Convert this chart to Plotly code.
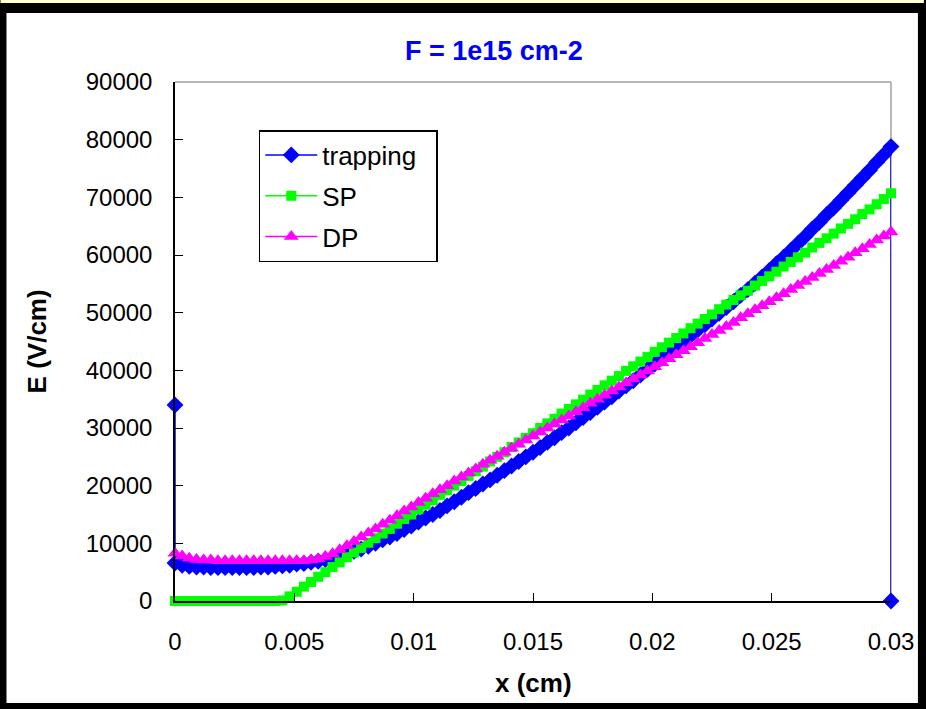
import plotly.graph_objects as go

# ---- data ----
X_CM = [round(i * 0.0003, 4) for i in range(101)]

TRAP_E = [6600, 6200, 6000, 5900, 5900, 5800, 5800, 5800, 5800, 5800,
          5800, 5800, 5900, 5900, 6000, 6100, 6200, 6400, 6500, 6700,
          6900, 7200, 7500, 7800, 8200, 8600, 9000, 9500, 10000, 10600,
          11100, 11700, 12400, 13000, 13700, 14400, 15000, 15700, 16500, 17200,
          18000, 18800, 19500, 20300, 21000, 21800, 22600, 23400, 24200, 25000,
          25800, 26600, 27500, 28300, 29200, 30000, 30900, 31800, 32700, 33600,
          34500, 35400, 36400, 37300, 38200, 39200, 40200, 41100, 42100, 43100,
          44100, 45000, 46000, 47000, 47900, 48900, 49900, 50900, 51900, 53000,
          54000, 55100, 56200, 57300, 58500, 59600, 60800, 62000, 63200, 64500,
          65700, 67000, 68200, 69500, 70800, 72100, 73400, 74700, 76100, 77400,
          78800]
TRAP_START = (0.0, 34000)   # first point of the trapping curve
TRAP_END = (0.03, 0)        # last point of the trapping curve

SP_E = [0, 0, 0, 0, 0, 0, 0, 0, 0, 0,
        0, 0, 0, 0, 0, 100, 800, 1600, 2500, 3300,
        4200, 5000, 5900, 6700, 7600, 8400, 9200, 10100, 10900, 11700,
        12500, 13400, 14200, 15000, 15900, 16700, 17500, 18400, 19200, 20000,
        20800, 21700, 22500, 23300, 24200, 25000, 25800, 26700, 27500, 28300,
        29100, 30000, 30800, 31600, 32500, 33300, 34100, 34900, 35800, 36600,
        37400, 38200, 39000, 39900, 40700, 41500, 42300, 43200, 44000, 44800,
        45600, 46400, 47300, 48100, 48900, 49700, 50600, 51400, 52200, 53000,
        53800, 54700, 55500, 56300, 57100, 58000, 58800, 59600, 60400, 61300,
        62100, 62900, 63700, 64600, 65400, 66200, 67100, 67900, 68800, 69700,
        70700]

DP_E = [8300, 7800, 7400, 7200, 7100, 7100, 7000, 7000, 7000, 7000,
        7000, 7000, 7000, 7000, 7000, 7000, 7000, 7000, 7000, 7100,
        7300, 7700, 8200, 8900, 9600, 10300, 11100, 11800, 12500, 13300,
        14000, 14800, 15600, 16300, 17100, 17800, 18600, 19300, 20000, 20800,
        21500, 22200, 22900, 23700, 24400, 25100, 25800, 26500, 27200, 27900,
        28600, 29300, 30000, 30700, 31400, 32100, 32800, 33500, 34300, 35000,
        35700, 36400, 37100, 37800, 38500, 39200, 39900, 40600, 41300, 42000,
        42700, 43400, 44100, 44800, 45500, 46200, 46900, 47600, 48300, 49100,
        49800, 50500, 51200, 51900, 52600, 53300, 54000, 54700, 55400, 56100,
        56800, 57500, 58200, 58900, 59600, 60400, 61100, 61800, 62600, 63300,
        64000]

X_TICKS = [0, 0.005, 0.01, 0.015, 0.02, 0.025, 0.03]
X_TICK_TEXT = ["0", "0.005", "0.01", "0.015", "0.02", "0.025", "0.03"]
Y_TICKS = [0, 10000, 20000, 30000, 40000, 50000, 60000, 70000, 80000, 90000]

TITLE = "F = 1e15 cm-2"
X_TITLE = "x (cm)"
Y_TITLE = "E (V/cm)"

# ---- figure ----
W, H = 926, 709
ML, MR, MT, MB = 175, 33, 82, 108
PW, PH = W - ML - MR, H - MT - MB


def px(xp):
    return (xp - ML) / PW


def py(yp):
    return (H - MB - yp) / PH


FONT = "Arial, Liberation Sans, sans-serif"

fig = go.Figure()

trap_x = [TRAP_START[0]] + X_CM + [TRAP_END[0]]
trap_y = [TRAP_START[1]] + TRAP_E + [TRAP_END[1]]

fig.add_trace(go.Scatter(
    x=trap_x, y=trap_y, name="trapping  ", mode="lines+markers",
    legendgroup="g1",
    line=dict(color="#0000FF", width=1.5),
    marker=dict(symbol="diamond", size=13, color="#0000FF"),
    cliponaxis=False))
fig.add_trace(go.Scatter(
    x=X_CM, y=SP_E, name="SP", mode="lines+markers",
    legendgroup="g2",
    line=dict(color="#00FF00", width=1.5),
    marker=dict(symbol="square", size=10, color="#00FF00"),
    cliponaxis=False))
fig.add_trace(go.Scatter(
    x=X_CM, y=DP_E, name="DP", mode="lines+markers",
    legendgroup="g3",
    line=dict(color="#FF00FF", width=1.5),
    marker=dict(symbol="triangle-up", size=13, color="#FF00FF"),
    cliponaxis=False))

shapes = [
    # white chart area on black frame
    dict(type="rect", xref="paper", yref="paper", layer="below",
         x0=px(6), x1=px(920), y0=py(703), y1=py(13),
         fillcolor="white", line=dict(width=0)),
    # thin pale strip at very top
    dict(type="rect", xref="paper", yref="paper", layer="below",
         x0=px(0), x1=px(926), y0=py(3), y1=py(0),
         fillcolor="#FFFFD0", line=dict(width=0)),
    # grey plot-area border (top & right)
    dict(type="line", xref="paper", yref="paper", layer="below",
         x0=0, x1=1, y0=1, y1=1, line=dict(color="#A0A0A0", width=1.5)),
    dict(type="line", xref="paper", yref="paper", layer="below",
         x0=1, x1=1, y0=0, y1=1, line=dict(color="#A0A0A0", width=1.5)),
]

annotations = [
    dict(text="<b>" + TITLE + "</b>", xref="paper", yref="paper",
         x=px(495), y=py(51), xanchor="center", yanchor="middle",
         showarrow=False, font=dict(family=FONT, size=27, color="#0000FF")),
    dict(text="<b>" + X_TITLE + "</b>", xref="paper", yref="paper",
         x=px(534), y=py(683), xanchor="center", yanchor="middle",
         showarrow=False, font=dict(family=FONT, size=26, color="black")),
    dict(text="<b>" + Y_TITLE + "</b>", xref="paper", yref="paper",
         x=px(37), y=py(341), xanchor="center", yanchor="middle",
         textangle=-90, showarrow=False,
         font=dict(family=FONT, size=26, color="black")),
]

fig.update_layout(
    width=W, height=H,
    margin=dict(l=ML, r=MR, t=MT, b=MB, pad=0),
    paper_bgcolor="black", plot_bgcolor="white",
    font=dict(family=FONT, size=24, color="black"),
    showlegend=True,
    legend=dict(x=px(259), y=py(130), xanchor="left", yanchor="top",
                bgcolor="white", bordercolor="black", borderwidth=1.5,
                font=dict(family=FONT, size=26, color="black"),
                itemwidth=52, tracegroupgap=4),
    shapes=shapes, annotations=annotations,
)

fig.update_xaxes(
    range=[0, 0.03], tickvals=X_TICKS, ticktext=X_TICK_TEXT,
    showgrid=False, zeroline=False, showline=True, linecolor="black",
    linewidth=1.5, ticks="inside", ticklen=8, tickcolor="black",
    tickfont=dict(family=FONT, size=24, color="black"),
    ticklabelstandoff=18)
fig.update_yaxes(
    range=[0, 90000], tickvals=Y_TICKS, tickformat="d",
    showgrid=False, zeroline=False, showline=True, linecolor="black",
    linewidth=1.5, ticks="inside", ticklen=8, tickcolor="black",
    tickfont=dict(family=FONT, size=24, color="black"),
    ticklabelstandoff=16)

fig.write_html("out.html")
